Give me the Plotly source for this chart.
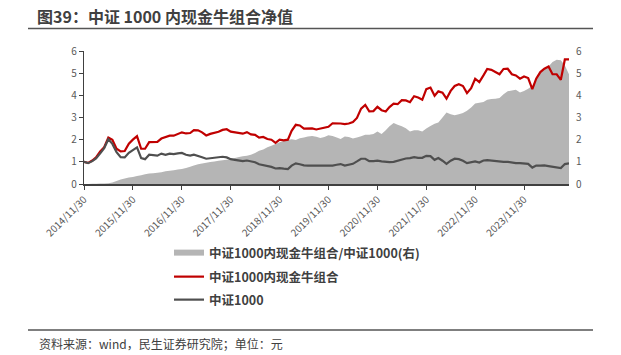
import pandas as pd
import plotly.graph_objects as go

# ---------------- data (monthly, 2014/11/30 - 2024/10/31) ----------------
dates = pd.date_range("2014-11-30", periods=120, freq="ME")

portfolio = [
    1.00, 0.95, 1.06, 1.20, 1.47, 1.66, 2.09, 1.99, 1.59, 1.47, 1.49, 1.82,
    2.00, 2.16, 1.59, 1.59, 1.89, 1.89, 1.90, 2.05, 2.10, 2.18, 2.18, 2.27,
    2.33, 2.28, 2.30, 2.43, 2.42, 2.33, 2.19, 2.26, 2.30, 2.36, 2.44, 2.47,
    2.36, 2.33, 2.33, 2.27, 2.34, 2.24, 2.22, 2.09, 2.12, 2.03, 2.00, 1.86,
    2.00, 1.97, 2.00, 2.40, 2.67, 2.64, 2.50, 2.52, 2.51, 2.46, 2.51, 2.55,
    2.58, 2.74, 2.74, 2.73, 2.70, 2.73, 2.80, 2.98, 3.40, 3.57, 3.28, 3.29,
    3.48, 3.33, 3.27, 3.47, 3.62, 3.60, 3.78, 3.77, 3.69, 3.96, 3.90, 3.80,
    4.28, 4.35, 3.98, 4.18, 4.12, 3.85, 4.20, 4.42, 4.50, 4.42, 4.10, 4.32,
    4.75, 4.60, 4.90, 5.19, 5.15, 5.05, 4.95, 5.19, 5.20, 4.95, 4.90, 4.75,
    4.85, 4.78, 4.28, 4.75, 5.05, 5.20, 5.30, 4.95, 4.95, 4.70, 5.62, 5.62,
]

csi1000 = [
    1.00, 0.94, 1.03, 1.15, 1.38, 1.62, 2.02, 1.81, 1.44, 1.21, 1.20, 1.41,
    1.53, 1.65, 1.17, 1.12, 1.32, 1.29, 1.28, 1.37, 1.32, 1.37, 1.35, 1.38,
    1.40, 1.32, 1.28, 1.32, 1.28, 1.21, 1.14, 1.17, 1.17, 1.20, 1.23, 1.20,
    1.12, 1.09, 1.06, 1.03, 1.06, 1.02, 0.98, 0.89, 0.86, 0.81, 0.77, 0.70,
    0.72, 0.69, 0.67, 0.83, 0.93, 0.89, 0.84, 0.83, 0.83, 0.83, 0.83, 0.83,
    0.82, 0.83, 0.87, 0.90, 0.83, 0.87, 0.91, 1.02, 1.14, 1.14, 1.03, 1.03,
    1.05, 1.02, 0.99, 0.99, 1.00, 1.06, 1.11, 1.15, 1.17, 1.21, 1.18, 1.18,
    1.27, 1.26, 1.09, 1.17, 1.05, 0.91, 1.05, 1.14, 1.12, 1.05, 0.94, 0.97,
    1.02, 0.97, 1.06, 1.08, 1.06, 1.03, 1.00, 1.00, 1.00, 0.96, 0.94, 0.94,
    0.94, 0.91, 0.74, 0.83, 0.83, 0.84, 0.81, 0.77, 0.75, 0.72, 0.90, 0.93,
]

relative = [
    0.00, 0.00, 0.01, 0.01, 0.02, 0.02, 0.03, 0.07, 0.13, 0.20, 0.25, 0.29,
    0.32, 0.36, 0.40, 0.44, 0.47, 0.49, 0.51, 0.53, 0.58, 0.60, 0.62, 0.65,
    0.68, 0.72, 0.78, 0.84, 0.89, 0.93, 0.96, 0.99, 1.02, 1.05, 1.07, 1.09,
    1.12, 1.17, 1.22, 1.25, 1.28, 1.32, 1.40, 1.50, 1.56, 1.66, 1.73, 1.80,
    1.88, 1.94, 1.99, 2.02, 1.98, 2.06, 2.10, 2.14, 2.16, 2.13, 2.08, 2.12,
    2.20, 2.16, 2.10, 2.03, 2.14, 2.12, 2.05, 2.10, 2.15, 2.22, 2.22, 2.26,
    2.37, 2.26, 2.42, 2.60, 2.75, 2.67, 2.60, 2.52, 2.37, 2.43, 2.42, 2.37,
    2.50, 2.62, 2.72, 2.77, 3.00, 3.22, 3.15, 3.10, 3.15, 3.20, 3.30, 3.45,
    3.63, 3.67, 3.70, 3.80, 3.83, 3.85, 3.88, 4.05, 4.18, 4.22, 4.25, 4.13,
    4.20, 4.30, 4.42, 4.75, 5.00, 5.20, 5.30, 5.50, 5.60, 5.58, 5.35, 4.95,
]

tick_dates = pd.to_datetime([f"{y}-11-30" for y in range(2014, 2024)])
tick_labels = [f"{y}/11/30" for y in range(2014, 2024)]

names = ["中证1000内现金牛组合/中证1000(右)", "中证1000内现金牛组合", "中证1000"]
title_text = "图39：中证 1000 内现金牛组合净值"
source_text = "资料来源：wind，民生证券研究院；单位：元"

# ---------------- layout geometry ----------------
W, H = 621, 355
L, R, T, B = 84, 52, 51, 171
PW, PH = W - L - R, H - T - B

def px_x(px):
    return (px - L) / PW

def px_y(py):
    return (H - B - py) / PH

FONT = "Noto Sans CJK SC, Microsoft YaHei, sans-serif"
TICK_COLOR = "#595959"

fig = go.Figure()
fig.add_trace(go.Scatter(
    x=dates, y=relative, name=names[0], mode="none", fill="tozeroy",
    fillcolor="#b5b5b5", yaxis="y", legend="legend",
))
fig.add_trace(go.Scatter(
    x=dates, y=portfolio, name=names[1], mode="lines",
    line=dict(color="#c00000", width=2.2), yaxis="y2", legend="legend2",
))
fig.add_trace(go.Scatter(
    x=dates, y=csi1000, name=names[2], mode="lines",
    line=dict(color="#4f4f4f", width=2.2), yaxis="y2", legend="legend3",
))

legend_common = dict(
    font=dict(family=FONT, size=12.5, color="#404040", weight="bold"),
    bgcolor="rgba(0,0,0,0)", xref="paper", yref="paper",
    xanchor="left", yanchor="middle", itemwidth=30,
)
lx = px_x(169)
fig.update_layout(
    legend=dict(x=lx, y=px_y(253), **legend_common),
    legend2=dict(x=lx, y=px_y(277), **legend_common),
    legend3=dict(x=lx, y=px_y(300), **legend_common),
)

fig.update_layout(
    width=W, height=H,
    margin=dict(l=L, r=R, t=T, b=B, pad=0, autoexpand=False),
    paper_bgcolor="white", plot_bgcolor="white",
    font=dict(family=FONT, color=TICK_COLOR),
    showlegend=True,
    title=dict(
        text=title_text, xref="container", yref="container",
        x=37 / W, xanchor="left", y=1 - 17 / H, yanchor="middle",
        font=dict(family=FONT, size=16, color="#404040", weight="bold"),
    ),
    xaxis=dict(
        type="date", range=[dates[0], dates[-1]],
        tickvals=tick_dates, ticktext=tick_labels, tickangle=-45,
        tickfont=dict(size=10, color=TICK_COLOR),
        ticks="outside", ticklen=4, tickcolor="#404040", tickwidth=1,
        showline=True, linecolor="#404040", linewidth=1.5,
        showgrid=False, zeroline=False, automargin=False,
    ),
    yaxis=dict(
        side="right", range=[0, 6], dtick=1,
        tickfont=dict(size=10, color=TICK_COLOR),
        showgrid=False, zeroline=False, showline=False, ticks="",
        ticklabelstandoff=6, automargin=False,
    ),
    yaxis2=dict(
        overlaying="y", side="left", range=[0, 6], dtick=1,
        tickfont=dict(size=10, color=TICK_COLOR),
        showgrid=False, zeroline=False,
        showline=True, linecolor="#404040", linewidth=1.2,
        ticks="outside", ticklen=4, tickcolor="#404040", automargin=False,
    ),
    shapes=[
        dict(type="line", xref="paper", yref="paper",
             x0=px_x(28), x1=px_x(593), y0=px_y(28.5), y1=px_y(28.5),
             line=dict(color="#555555", width=1.5)),
        dict(type="line", xref="paper", yref="paper",
             x0=px_x(28), x1=px_x(593), y0=px_y(330), y1=px_y(330),
             line=dict(color="#555555", width=1.5)),
    ],
    annotations=[
        dict(text=source_text, xref="paper", yref="paper",
             x=px_x(37), y=px_y(343), xanchor="left", yanchor="middle",
             showarrow=False,
             font=dict(family=FONT, size=12, color="#404040")),
    ],
)

fig.write_html(
    "out.html",
    config={"displayModeBar": False},
    post_script="document.body.style.margin='0';document.body.style.padding='0';",
)
